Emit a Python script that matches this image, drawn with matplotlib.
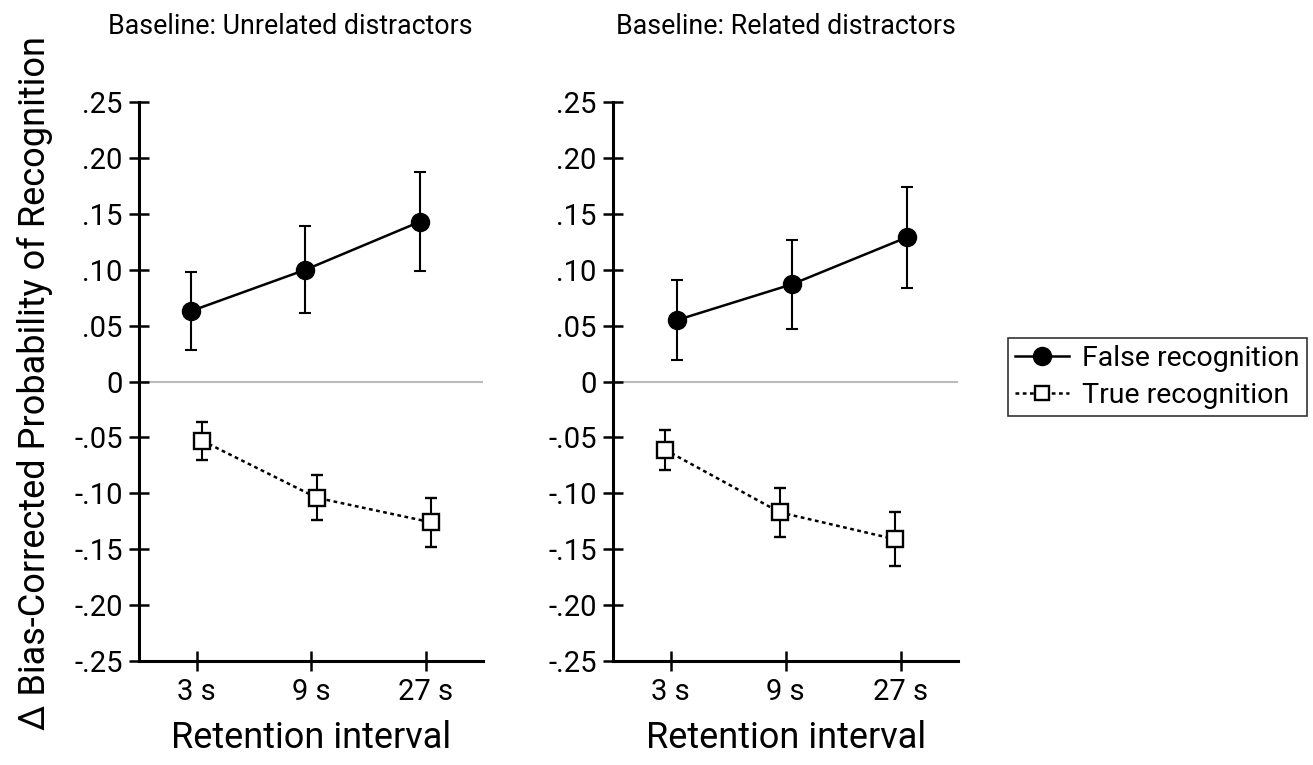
import numpy as np
import matplotlib
matplotlib.use('Agg')
import matplotlib.pyplot as plt
from matplotlib.lines import Line2D

plt.rcParams['font.family'] = ['Roboto', 'DejaVu Sans']

# Data
intervals = ['3 s', '9 s', '27 s']
panel_titles = ['Baseline: Unrelated distractors', 'Baseline: Related distractors']

unrel_false = [0.063, 0.100, 0.143]
unrel_false_err = [0.035, 0.039, 0.044]
unrel_true = [-0.053, -0.104, -0.126]
unrel_true_err = [0.017, 0.020, 0.022]

rel_false = [0.055, 0.087, 0.129]
rel_false_err = [0.036, 0.040, 0.045]
rel_true = [-0.061, -0.117, -0.141]
rel_true_err = [0.018, 0.022, 0.024]

yticks = [0.25, 0.20, 0.15, 0.10, 0.05, 0, -0.05, -0.10, -0.15, -0.20, -0.25]
ytick_labels = ['.25', '.20', '.15', '.10', '.05', '0', '-.05', '-.10', '-.15', '-.20', '-.25']

fig = plt.figure(figsize=(13.13, 7.65), dpi=100)
ax1 = fig.add_axes([0.1061, 0.1359, 0.2618, 0.7307])
ax2 = fig.add_axes([0.4671, 0.1359, 0.2625, 0.7307])

panels = [
    (ax1, unrel_false, unrel_false_err, unrel_true, unrel_true_err, -0.05, 0.05),
    (ax2, rel_false, rel_false_err, rel_true, rel_true_err, 0.055, -0.05),
]

x = np.arange(len(intervals))
for ax, f, fe, t, te, fo, to in panels:
    ax.axhline(0, color='#bbbbbb', lw=1.5, zorder=0)
    ax.errorbar(x + fo, f, yerr=fe, color='black', lw=1.8, marker='o', ms=13,
                capsize=4, elinewidth=1.5, capthick=1.5, zorder=3)
    ax.errorbar(x + to, t, yerr=te, color='black', lw=1.8, ls=(0, (1.5, 1.4)),
                marker='s', ms=11, mfc='white', mec='black', mew=1.7,
                capsize=4, elinewidth=1.5, capthick=1.5, zorder=3)
    ax.set_xlim(-0.5, 2.5)
    ax.set_ylim(-0.25, 0.25)
    ax.set_xticks(x)
    ax.set_xticklabels(intervals, fontsize=21)
    ax.set_yticks(yticks)
    ax.set_yticklabels(ytick_labels, fontsize=21)
    ax.tick_params(direction='inout', length=14, width=1.8, pad=5)
    for s in ['top', 'right']:
        ax.spines[s].set_visible(False)
    for s in ['left', 'bottom']:
        ax.spines[s].set_linewidth(2.2)
    ax.set_xlabel('Retention interval', fontsize=26, labelpad=10)

fig.text(290 / 1313, 1 - 26 / 765, panel_titles[0], fontsize=19.3, ha='center', va='center')
fig.text(786 / 1313, 1 - 26 / 765, panel_titles[1], fontsize=19.3, ha='center', va='center')
fig.text(35 / 1313, 1 - 383 / 765, '\u0394 Bias-Corrected Probability of Recognition',
         fontsize=26, rotation=90, ha='center', va='center')

handles = [
    Line2D([], [], color='black', lw=1.8, marker='o', ms=13),
    Line2D([], [], color='black', lw=1.8, ls=(0, (1.5, 1.4)), marker='s', ms=10,
           mfc='white', mew=1.7),
]
leg = fig.legend(handles, ['False recognition', 'True recognition'], loc='center left',
                 bbox_to_anchor=(1008 / 1313, 1 - 377 / 765), fontsize=20.5, frameon=True,
                 fancybox=False, edgecolor='black', handlelength=1.9, handletextpad=0.45,
                 borderpad=0.25, labelspacing=0.35, borderaxespad=0)
leg.get_frame().set_linewidth(1.2)

fig.savefig('out.png', dpi=100)
